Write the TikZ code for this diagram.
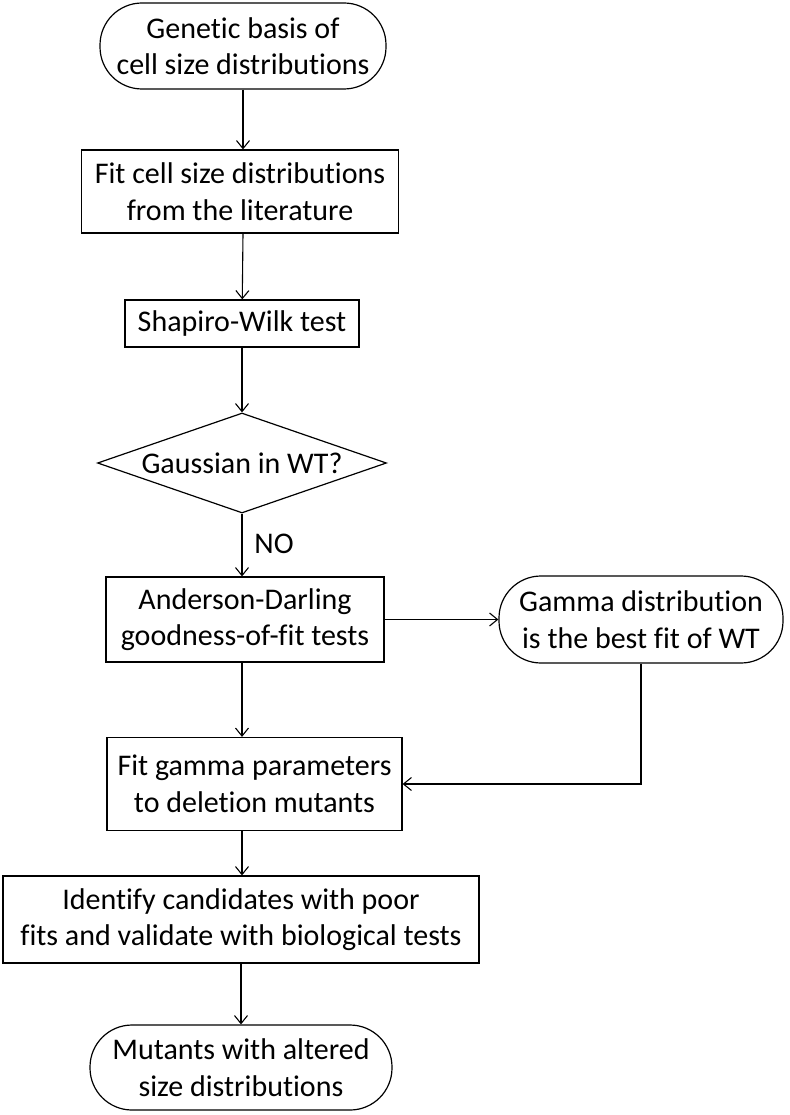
\documentclass[tikz,border=0pt]{standalone}
\usepackage{fontspec}
\setmainfont{Carlito}[Ligatures=NoCommon]
\usetikzlibrary{shapes.geometric,arrows.meta}
\begin{document}
\begin{tikzpicture}[x=1pt,y=-1pt,
  every node/.style={font=\fontsize{30pt}{36.6pt}\selectfont, align=center, inner sep=0pt},
  procbox/.style={draw, line width=1.2pt, rectangle},
  termbox/.style={draw, line width=1.2pt, rectangle, rounded corners=42pt},
  decbox/.style={draw, line width=1.2pt, diamond, shape aspect=2.89},
  arr/.style={line width=1.1pt, -{Straight Barb[length=8pt,width=13pt]}}]
\useasboundingbox (0,0) rectangle (789,1115);
\node[termbox, minimum width=286pt, minimum height=86pt] (start) at (243,46) {Genetic basis of\\cell size distributions};
\node[procbox, minimum width=317pt, minimum height=83pt] (fitlit) at (240,191.5) {Fit cell size distributions\\from the literature};
\node[procbox, minimum width=234pt, minimum height=47pt] (shapiro) at (242,323.5) {Shapiro-Wilk test};
\node[decbox, minimum width=289pt, minimum height=100pt] (gauss) at (242,463) {Gaussian in WT?};
\node[procbox, minimum width=278pt, minimum height=85pt] (anderson) at (245,619.5) {Anderson-Darling\\goodness-of-fit tests};
\node[termbox, minimum width=284pt, minimum height=87pt] (gammabest) at (641,619.5) {Gamma distribution\\is the best fit of WT};
\node[procbox, minimum width=295pt, minimum height=93pt] (fitgamma) at (254.5,784) {Fit gamma parameters\\to deletion mutants};
\node[procbox, minimum width=476pt, minimum height=87pt] (identify) at (241,919.5) {Identify candidates with poor\\fits and validate with biological tests};
\node[termbox, minimum width=302pt, minimum height=85pt] (mutants) at (241,1067.5) {Mutants with altered\\size distributions};
\node (no) at (274,544) {NO};
\draw[arr] (start) -- (start |- fitlit.north);
\draw[arr] (start |- fitlit.south) -- (shapiro);
\draw[arr] (shapiro) -- (gauss);
\draw[arr] (gauss) -- (gauss |- anderson.north);
\draw[arr] (anderson) -- (gammabest);
\draw[arr] (gauss |- anderson.south) -- (gauss |- fitgamma.north);
\draw[arr] (gammabest.south) |- (fitgamma.east);
\draw[arr] (gauss |- fitgamma.south) -- (gauss |- identify.north);
\draw[arr] (identify) -- (mutants);
\end{tikzpicture}
\end{document}
